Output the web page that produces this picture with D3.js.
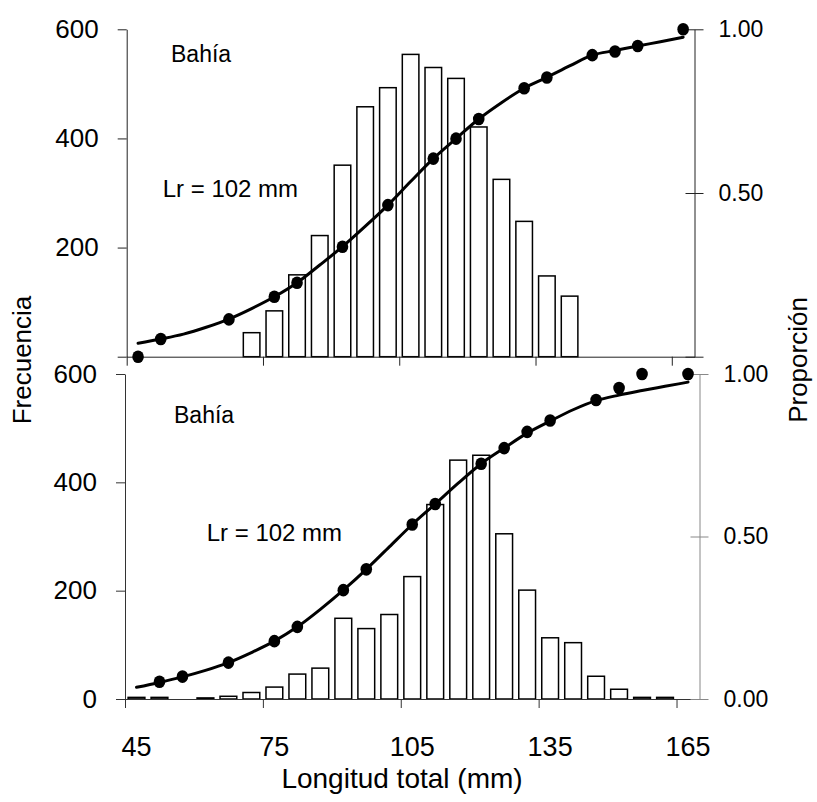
<!DOCTYPE html>
<html>
<head>
<meta charset="utf-8">
<script src="https://cdn.jsdelivr.net/npm/d3@7"></script>
<style>
  body { margin: 0; background: #fff; }
  text { font-family: "Liberation Sans", Arial, sans-serif; fill: #000; }
</style>
</head>
<body>
<svg id="chart" width="817" height="802"></svg>
<script>
// length classes (mm)
var categories = ["45","50","55","60","65","70","75","80","85","90","95","100","105",
                  "110","115","120","125","130","135","140","145","150","155","160","165"];
var xLabels = ["45", "75", "105", "135", "165"];

// top panel: frequency bars, observed proportion, fitted curve
var topFreq = [0, 0, 0, 0, 0, 44, 84, 150, 222, 351, 458, 493, 554,
               530, 510, 421, 325, 248, 148, 111, 0, 0, 0, 0, 0];
var topProp = [0.0, 0.054, null, null, 0.114, null, 0.183, 0.226, null, 0.336, null, 0.463, null,
               0.605, 0.666, 0.726, null, 0.82, 0.853, null, 0.921, 0.932, 0.949, null, 1.0];
var topFit = [0.041, 0.054, 0.069, 0.09, 0.115, 0.147, 0.183, 0.226, 0.28, 0.336, 0.398, 0.463, 0.535,
              0.605, 0.666, 0.726, 0.776, 0.82, 0.853, 0.888, 0.921, 0.935, 0.949, 0.962, 0.976];

// bottom panel
var botFreq = [3, 3, 0, 2, 5, 12, 22, 46, 57, 149, 130, 156, 226,
               359, 441, 450, 305, 201, 113, 104, 42, 18, 3, 3, 0];
var botProp = [null, 0.053, 0.069, null, 0.112, null, 0.178, 0.222, null, 0.335, 0.399, null, 0.537,
               0.60, null, 0.724, 0.772, 0.822, 0.857, null, 0.92, 0.957, 1.0, null, 1.0];
var botFit = [0.036, 0.051, 0.068, 0.088, 0.112, 0.143, 0.178, 0.222, 0.276, 0.335, 0.399, 0.468, 0.537,
              0.600, 0.664, 0.724, 0.772, 0.818, 0.855, 0.89, 0.918, 0.935, 0.949, 0.962, 0.975];

var freqTicks = [0, 200, 400, 600];
var propTicks = [0, 0.5, 1];

var svg = d3.select("#chart");
var fontFam = '"Liberation Sans", Arial, sans-serif';

var panels = [
  {left: 126.7, right: 694.5, y0: 356.7, y1: 29.3, freq: topFreq, prop: topProp, fit: topFit,
   bottomRow: false, axisCol: "#222", rightCol: "#222",
   site: [171, 61.7], lr: [162.7, 196.7]},
  {left: 125, right: 699.5, y0: 699, y1: 374, freq: botFreq, prop: botProp, fit: botFit,
   bottomRow: true, axisCol: "#333", rightCol: "#888",
   site: [174, 423.3], lr: [206.7, 541]}
];

panels.forEach(function(p) {
  var x = d3.scaleBand()
      .domain(categories)
      .range([p.left, p.right])
      .paddingInner(0.27)
      .paddingOuter(0.135);
  var edge = d3.scaleLinear()
      .domain([0, categories.length])
      .range([p.left, p.right]);
  var yL = d3.scaleLinear().domain([0, 600]).range([p.y0, p.y1]);
  var yR = d3.scaleLinear().domain([0, 1]).range([p.y0, p.y1]);
  var cx = function(i) { return x(categories[i]) + x.bandwidth() / 2; };

  var g = svg.append("g");

  // bars
  var barData = p.freq.map(function(v, i) { return {c: categories[i], v: v}; })
      .filter(function(d) { return d.v > 0; });
  g.append("g").selectAll("rect")
    .data(barData)
    .join("rect")
      .attr("x", d => x(d.c))
      .attr("y", d => yL(d.v))
      .attr("width", x.bandwidth())
      .attr("height", d => yL(0) - yL(d.v))
      .attr("fill", "#fff")
      .attr("stroke", "#000")
      .attr("stroke-width", 1.5);

  // x axis: ticks every 30 mm between classes
  var gx = g.append("g")
      .attr("transform", "translate(0," + p.y0 + ")")
      .call(d3.axisBottom(edge).tickValues([0, 6, 12, 18, 24]).tickFormat("").tickSize(9).tickSizeOuter(0));
  gx.selectAll("path, line").attr("stroke", p.axisCol);

  if (p.bottomRow) {
    var gl = g.append("g")
        .attr("transform", "translate(0," + p.y0 + ")")
        .call(d3.axisBottom(x).tickValues(xLabels).tickSize(0).tickPadding(38));
    gl.select(".domain").remove();
    gl.selectAll("text").attr("font-size", 27).attr("font-family", fontFam);
  }

  // left axis (frequency)
  var gyl = g.append("g")
      .attr("transform", "translate(" + p.left + ",0)")
      .call(d3.axisLeft(yL).tickValues(freqTicks)
        .tickFormat(d => (d === 0 && !p.bottomRow) ? "" : d)
        .tickSize(9).tickPadding(19).tickSizeOuter(0));
  gyl.selectAll("path, line").attr("stroke", p.axisCol);
  gyl.selectAll("text").attr("font-size", 26).attr("font-family", fontFam);

  // right axis (proportion)
  var gyr = g.append("g")
      .attr("transform", "translate(" + p.right + ",0)")
      .call(d3.axisRight(yR).tickValues(propTicks)
        .tickFormat(d => (d === 0 && !p.bottomRow) ? "" : d3.format(".2f")(d))
        .tickSize(9).tickPadding(15).tickSizeOuter(0));
  gyr.selectAll("path, line").attr("stroke", p.rightCol);
  gyr.selectAll(".tick line").attr("x1", -9);
  gyr.selectAll("text").attr("font-size", 23).attr("font-family", fontFam);

  // fitted curve
  var line = d3.line()
      .x((d, i) => cx(i))
      .y(d => yR(d))
      .curve(d3.curveMonotoneX);
  g.append("path")
    .attr("d", line(p.fit))
    .attr("fill", "none")
    .attr("stroke", "#000")
    .attr("stroke-width", 3)
    .attr("stroke-linecap", "round");

  // observed proportions
  var dots = p.prop.map(function(v, i) { return {i: i, v: v}; })
      .filter(function(d) { return d.v !== null; });
  g.append("g").selectAll("ellipse")
    .data(dots)
    .join("ellipse")
      .attr("cx", d => cx(d.i))
      .attr("cy", d => yR(d.v))
      .attr("rx", 5.8)
      .attr("ry", 6.3)
      .attr("fill", "#000");

  g.append("text")
    .attr("x", p.site[0]).attr("y", p.site[1])
    .attr("font-size", 23)
    .text("Bahía");
  g.append("text")
    .attr("x", p.lr[0]).attr("y", p.lr[1])
    .attr("font-size", 24)
    .text("Lr = 102 mm");
});

svg.append("text")
  .attr("x", 402).attr("y", 788)
  .attr("text-anchor", "middle")
  .attr("font-size", 28)
  .text("Longitud total (mm)");

svg.append("text")
  .attr("transform", "translate(31,360) rotate(-90)")
  .attr("text-anchor", "middle")
  .attr("font-size", 26)
  .text("Frecuencia");

svg.append("text")
  .attr("transform", "translate(807,360) rotate(-90)")
  .attr("text-anchor", "middle")
  .attr("font-size", 26)
  .text("Proporción");
</script>
</body>
</html>
